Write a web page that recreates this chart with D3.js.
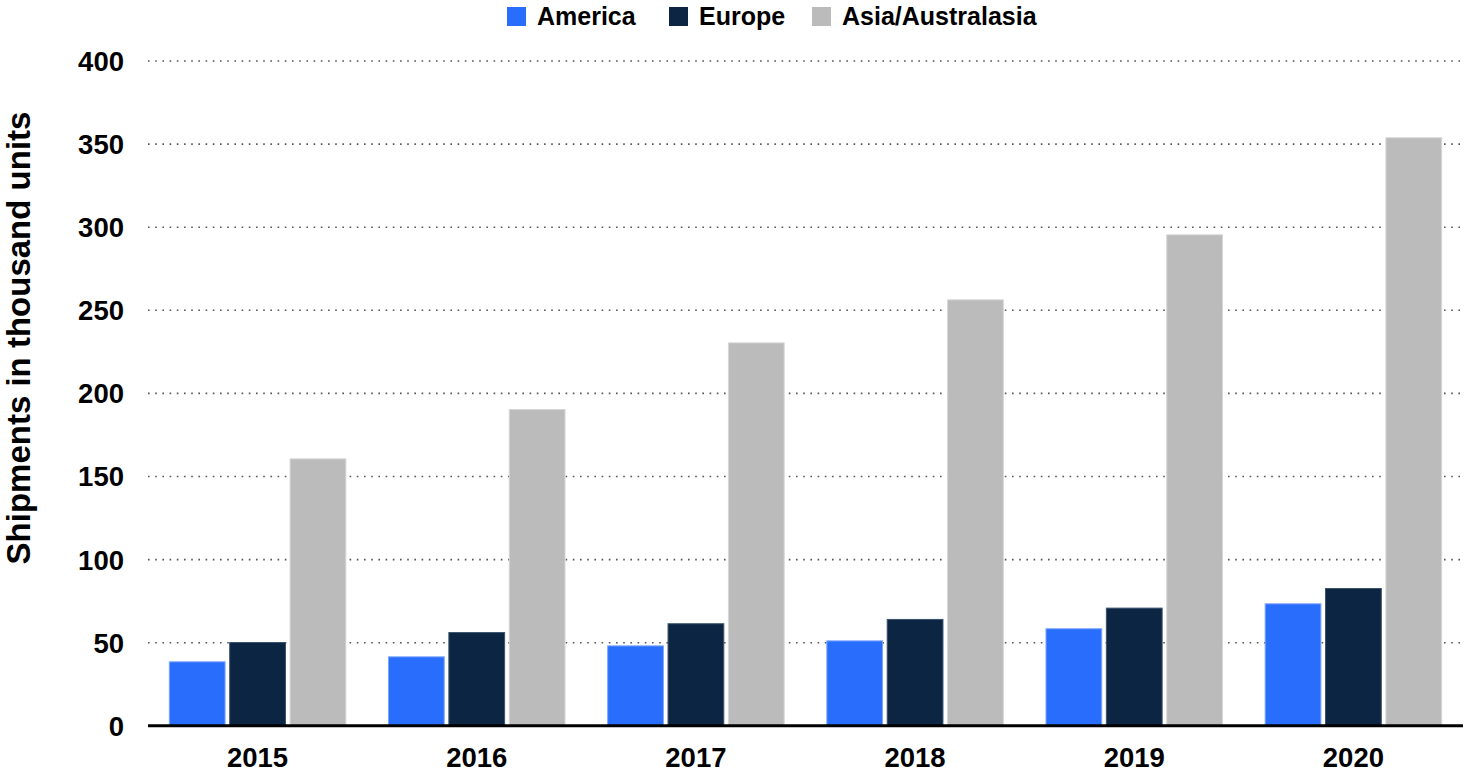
<!DOCTYPE html>
<html>
<head>
<meta charset="utf-8">
<script src="https://cdn.jsdelivr.net/npm/d3@7"></script>
<style>
  html, body { margin: 0; padding: 0; background: #fff; }
  svg { display: block; font-family: "Liberation Sans", Arial, sans-serif; }
</style>
</head>
<body>
<svg id="chart" width="1467" height="779"></svg>
<script>
const years = ["2015", "2016", "2017", "2018", "2019", "2020"];
const seriesNames = ["America", "Europe", "Asia/Australasia"];
const america = [38.8, 41.8, 48.4, 51.4, 58.7, 73.7];
const europe = [50.4, 56.4, 61.7, 64.3, 71.1, 82.9];
const asia = [160.9, 190.6, 230.7, 256.6, 295.7, 354.1];
const yTicks = [0, 50, 100, 150, 200, 250, 300, 350, 400];
const colors = ["#286dfc", "#0b2542", "#bbbbbb"];
const strokes = ["#7fa6fd", "#3a526c", "#d6d6d6"];

const seriesValues = [america, europe, asia];

const svg = d3.select("#chart");
const plotLeft = 148, plotRight = 1463, plotTop = 61, plotBottom = 725.8;

const x0 = d3.scaleBand().domain(years).range([plotLeft, plotRight]).paddingInner(0.19).paddingOuter(0.095);
const x1 = d3.scaleBand().domain(seriesNames).range([0, x0.bandwidth()]).paddingInner(0.06);
const y = d3.scaleLinear().domain([0, 400]).range([plotBottom, plotTop]);

// gridlines
svg.append("g").selectAll("line").data(yTicks.filter(d => d > 0)).join("line")
  .attr("x1", plotLeft).attr("x2", plotRight)
  .attr("y1", d => y(d)).attr("y2", d => y(d))
  .attr("stroke", "#555").attr("stroke-width", 1.6)
  .attr("stroke-dasharray", "1.6,5.6");

// y tick labels
svg.append("g").selectAll("text").data(yTicks).join("text")
  .attr("x", 124).attr("y", d => y(d))
  .attr("dy", "0.36em")
  .attr("text-anchor", "end")
  .attr("font-size", 27.5).attr("font-weight", "bold").attr("fill", "#000")
  .text(d => d);

// bars
const groups = svg.append("g").selectAll("g").data(years).join("g")
  .attr("transform", d => `translate(${x0(d)},0)`);
groups.selectAll("rect")
  .data((yr, i) => seriesNames.map((s, j) => ({ s, j, v: seriesValues[j][i] })))
  .join("rect")
  .attr("x", d => x1(d.s) + 0.5)
  .attr("width", x1.bandwidth() - 1)
  .attr("y", d => y(d.v) + 0.5)
  .attr("height", d => y(0) - y(d.v) - 0.5)
  .attr("fill", d => colors[d.j])
  .attr("stroke", d => strokes[d.j])
  .attr("stroke-width", 1);

// x axis line
svg.append("line")
  .attr("x1", plotLeft).attr("x2", plotRight)
  .attr("y1", plotBottom).attr("y2", plotBottom)
  .attr("stroke", "#000").attr("stroke-width", 3);

// x labels
svg.append("g").selectAll("text").data(years).join("text")
  .attr("x", d => x0(d) + x0.bandwidth() / 2)
  .attr("y", 767)
  .attr("text-anchor", "middle")
  .attr("font-size", 27.5).attr("font-weight", "bold").attr("fill", "#000")
  .text(d => d);

// y axis title
svg.append("text")
  .attr("transform", "translate(30,338) rotate(-90)")
  .attr("text-anchor", "middle")
  .attr("font-size", 33).attr("font-weight", "bold").attr("fill", "#000")
  .text("Shipments in thousand units");

// legend
const legendX = [507, 669, 812];
const leg = svg.append("g").selectAll("g").data(seriesNames).join("g")
  .attr("transform", (d, i) => `translate(${legendX[i]},7)`);
leg.append("rect").attr("width", 19).attr("height", 19)
  .attr("fill", (d, i) => colors[i]);
leg.append("text").attr("x", 30).attr("y", 18)
  .attr("font-size", 25).attr("font-weight", "bold").attr("fill", "#000")
  .text(d => d);
</script>
</body>
</html>
